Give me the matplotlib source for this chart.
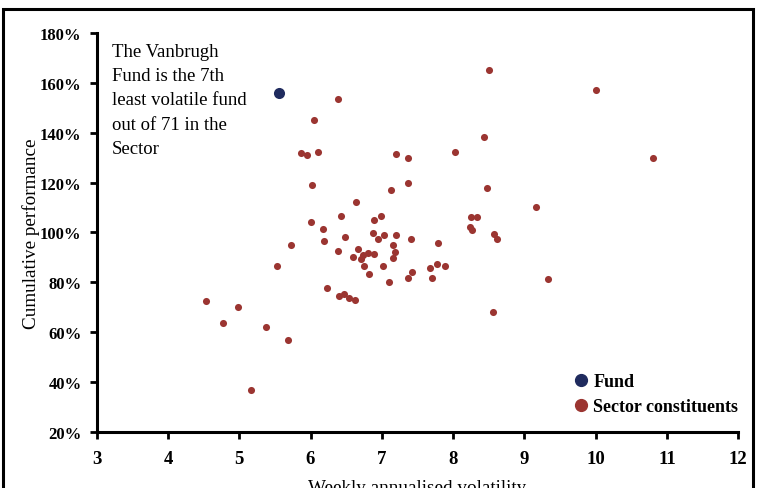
import numpy as np
import matplotlib.pyplot as plt
from matplotlib.lines import Line2D
from matplotlib.patches import Rectangle

plt.rcParams['font.family'] = ['Liberation Serif', 'DejaVu Serif']

# 基金自身
fund_vol = [5.56]
fund_perf = [155.9]

# 板块成分基金 (波动率, 累计表现%)
sector_vol = [6.38, 6.05, 5.87, 5.95, 6.11, 6.02, 6.64, 6.43, 6.01, 6.18,
              6.49, 6.89, 6.87, 6.19, 5.72, 7.36, 7.36, 7.13, 8.47, 6.99,
              7.03, 7.20, 6.95, 7.41, 8.25, 8.34, 8.24, 8.27, 7.79, 7.16,
              6.39, 7.18, 6.67, 6.81, 6.89, 6.60, 6.71, 6.74, 7.15, 6.75,
              7.01, 6.82, 7.67, 7.77, 7.89, 7.42, 7.36, 7.70, 7.10, 6.23,
              6.40, 6.47, 6.54, 6.63, 8.50, 10.00, 8.43, 7.20, 8.03, 10.80,
              9.16, 8.57, 8.62, 9.33, 8.56, 4.53, 4.77, 4.98, 5.17, 5.37,
              5.53, 5.69]
sector_perf = [153.5, 145.2, 132.0, 131.2, 132.2, 118.9, 112.3, 106.4, 104.0, 101.2,
               98.0, 105.0, 99.9, 96.7, 95.0, 129.8, 119.8, 117.1, 117.7, 106.4,
               98.8, 98.8, 97.2, 97.2, 106.2, 106.2, 102.0, 100.9, 95.6, 94.9,
               92.4, 92.1, 93.3, 91.7, 91.2, 90.1, 89.3, 90.9, 89.6, 86.4,
               86.6, 83.4, 85.8, 87.2, 86.4, 84.0, 81.6, 81.6, 80.2, 77.8,
               74.4, 75.4, 73.5, 73.0, 165.2, 157.3, 138.4, 131.4, 132.2, 129.8,
               110.0, 99.3, 97.2, 81.3, 68.1, 72.3, 63.7, 69.9, 36.7, 62.1,
               86.6, 56.7]

x_ticks = [3, 4, 5, 6, 7, 8, 9, 10, 11, 12]
y_ticks = [20, 40, 60, 80, 100, 120, 140, 160, 180]

note = "The Vanbrugh\nFund is the 7th\nleast volatile fund\nout of 71 in the\nSector"

fund_color = '#1f2b5e'
sector_color = '#9b3531'

fig = plt.figure(figsize=(7.57, 4.89), dpi=100)
ax = fig.add_axes([0.1277, 0.1151, 0.8476, 0.8154])

ax.scatter(sector_vol, sector_perf, s=26, color=sector_color, zorder=3, linewidths=0)
ax.scatter(fund_vol, fund_perf, s=64, color=fund_color, zorder=4, linewidths=0)

ax.set_xlim(3, 12)
ax.set_ylim(20, 180)
ax.set_xticks(x_ticks)
ax.set_yticks(y_ticks)
ax.set_xticklabels([str(v) for v in x_ticks], fontweight='bold', fontsize=13.5)
ax.set_yticklabels([f"{v}%" for v in y_ticks], fontweight='bold', fontsize=12)
ax.tick_params(direction='out', length=5, width=2)
ax.tick_params(axis='x', pad=8)
ax.tick_params(axis='y', pad=6)

for s in ['top', 'right']:
    ax.spines[s].set_visible(False)
for s in ['left', 'bottom']:
    ax.spines[s].set_linewidth(2.2)

ax.set_ylabel('Cumulative performance', fontsize=13.8, labelpad=0)
ax.set_xlabel('Weekly annualised volatility', fontsize=13.8, labelpad=9)

ax.text(0.024, 0.976, note, transform=ax.transAxes, fontsize=13.5,
        va='top', ha='left', linespacing=1.57)

handles = [Line2D([], [], marker='o', linestyle='', color=fund_color, markersize=8.5),
           Line2D([], [], marker='o', linestyle='', color=sector_color, markersize=8.5)]
ax.legend(handles, ['Fund', 'Sector constituents'], loc='lower left',
          bbox_to_anchor=(0.719, 0.0), frameon=False, handlelength=0.8,
          handletextpad=0.25, labelspacing=0.45,
          prop={'weight': 'bold', 'size': 13})

# 外边框
fig.patches.append(Rectangle((3 / 757, -0.1), 750 / 757, 1.1 - 10 / 489,
                             transform=fig.transFigure, fill=False,
                             edgecolor='black', linewidth=2.2, clip_on=False))

fig.savefig('out.png', dpi=100)
